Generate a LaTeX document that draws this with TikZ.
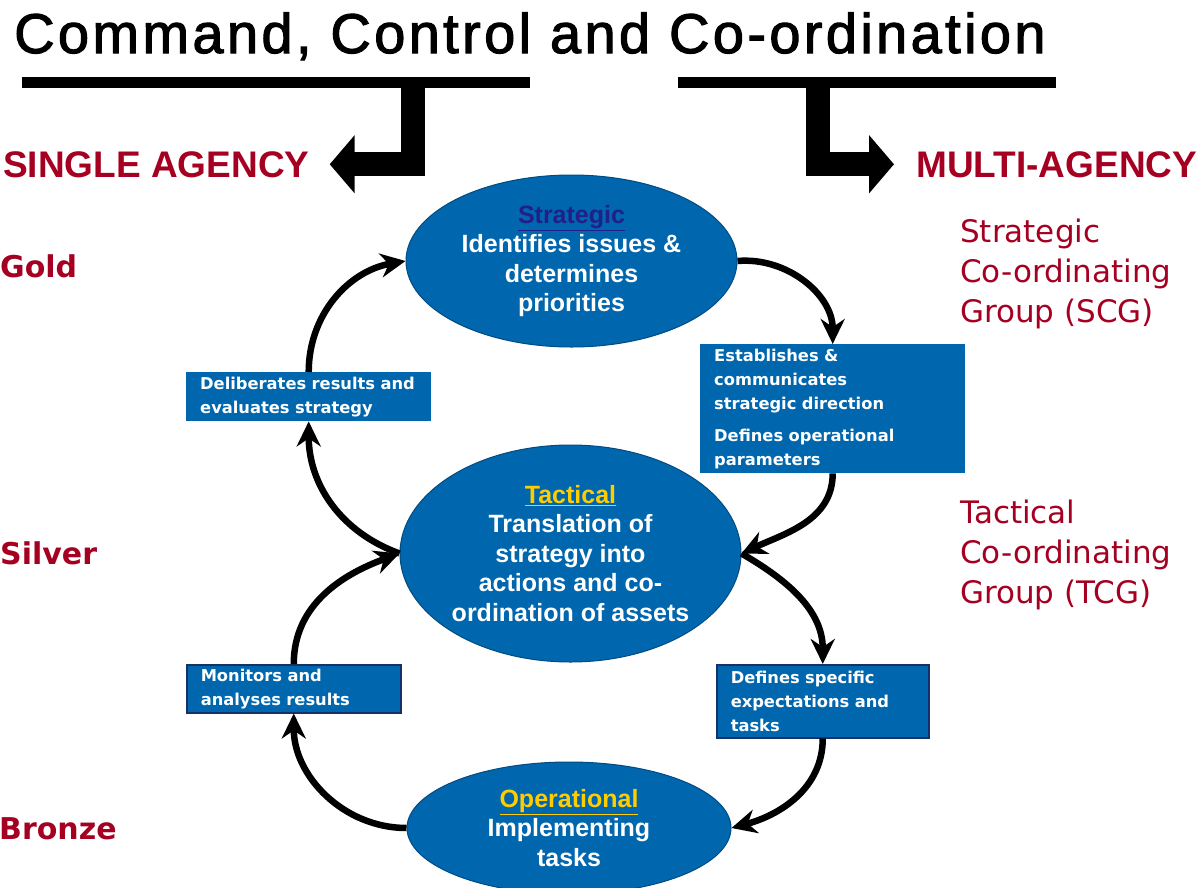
\documentclass[tikz,border=0pt]{standalone}
\usepackage{fontspec}
\setmainfont{Liberation Sans}
\newfontfamily\widesans{DejaVu Sans}
\newfontfamily\headsans{Liberation Sans}[FakeBold=2,LetterSpace=6]
\usepackage{tikz}
\usetikzlibrary{arrows.meta,shapes.geometric}
\definecolor{cccblue}{RGB}{0,102,174}
\definecolor{cccnavy}{RGB}{22,48,104}
\definecolor{cccred}{RGB}{165,0,33}
\definecolor{cccink}{RGB}{34,30,140}
\definecolor{cccgold}{RGB}{255,204,0}

\begin{document}
\begin{tikzpicture}[x=1pt,y=-1pt,
  oval/.style={ellipse,fill=cccblue,draw=cccblue!75!black,line width=1pt,inner sep=0pt,text=white,align=center,font=\fontsize{25}{29.5}\selectfont\bfseries},
  task/.style={rectangle,fill=cccblue,anchor=north west,inner xsep=14pt,inner ysep=0pt,text=white,align=left,font=\widesans\fontsize{16.3}{24}\selectfont\bfseries},
  framed/.style={draw=cccnavy,line width=1.5pt},
  flow/.style={-{Stealth[length=25pt,width=24pt]},line width=6.5pt},
  bracket/.style={-{Triangle[length=25pt,width=57pt]},line width=24pt,line join=miter},
  tier/.style={anchor=base west,inner sep=0pt,text=cccred,font=\widesans\fontsize{30}{36}\selectfont\bfseries},
  group/.style={anchor=north west,inner sep=0pt,text=cccred,align=left,font=\widesans\fontsize{31}{40}\selectfont},
  agency/.style={anchor=base west,inner sep=0pt,text=cccred,font=\fontsize{37}{40}\selectfont\bfseries}]
\useasboundingbox (0,0) rectangle (1203,887);

\node[anchor=base west,inner sep=0pt,font=\headsans\fontsize{56}{56}\selectfont] (title) at (14,53) {Command, Control and Co-ordination};
\draw[line width=11pt] (22,82) -- (530,82);
\draw[line width=11pt] (678,82) -- (1056,82);

\node[agency] (single) at (3,177) {SINGLE AGENCY};
\node[agency] (multi) at (916,177) {MULTI-AGENCY};
\draw[bracket] (412.5,82) |- ([xshift=20pt]single.east);
\draw[bracket] (817.5,82) |- ([xshift=-22pt]multi.west);

\node[tier] (gold) at (0,277) {Gold};
\node[tier] (silver) at (0,564) {Silver};
\node[tier] (bronze) at (-1,839) {Bronze};

\node[group] (scg) at (960,219) {Strategic\\Co-ordinating\\Group (SCG)};
\node[group] (tcg) at (960,500) {Tactical\\Co-ordinating\\Group (TCG)};

\node[oval,minimum width=331pt,minimum height=172pt] (strat) at (571.5,261) {\textcolor{cccink}{\underline{Strategic}}\\Identifies issues \&\\determines\\priorities};
\node[oval,minimum width=341pt,minimum height=217pt] (tact) at (570.5,553.5) {\textcolor{cccgold}{\underline{Tactical}}\\Translation of\\strategy into\\actions and co-\\ordination of assets};
\node[oval,minimum width=324pt,minimum height=132pt] (oper) at (569,828) {\textcolor{cccgold}{\underline{Operational}}\\Implementing\\tasks};

\node[task,minimum height=129pt,text width=237pt] (est) at (700,344) {Establishes \&\\communicates\\strategic direction\\[8pt]Defines operational\\parameters};
\node[task,minimum height=49pt,text width=217pt] (delib) at (186,372) {Deliberates results and\\evaluates strategy};
\node[task,framed,minimum height=48pt,text width=186pt] (mon) at (186,664) {Monitors and\\analyses results};
\node[task,framed,minimum height=73pt,text width=184pt] (def) at (716,664) {Defines specific\\expectations and\\tasks};

\draw[flow] (strat.east) to[out=5,in=90] (est.north);
\draw[flow] (est.south) to[out=-90,in=25] (tact.east);
\draw[flow] (tact.east) to[out=-30,in=90] (def.north);
\draw[flow] (def.south) to[out=-90,in=15] (oper.east);
\draw[flow] (oper.west) to[out=180,in=-90] (mon.south);
\draw[flow] (mon.north) to[out=90,in=200] (tact.west);
\draw[flow] (tact.west) to[out=160,in=-90] (delib.south);
\draw[flow] (delib.north) to[out=90,in=190] (strat.west);
\end{tikzpicture}
\end{document}
